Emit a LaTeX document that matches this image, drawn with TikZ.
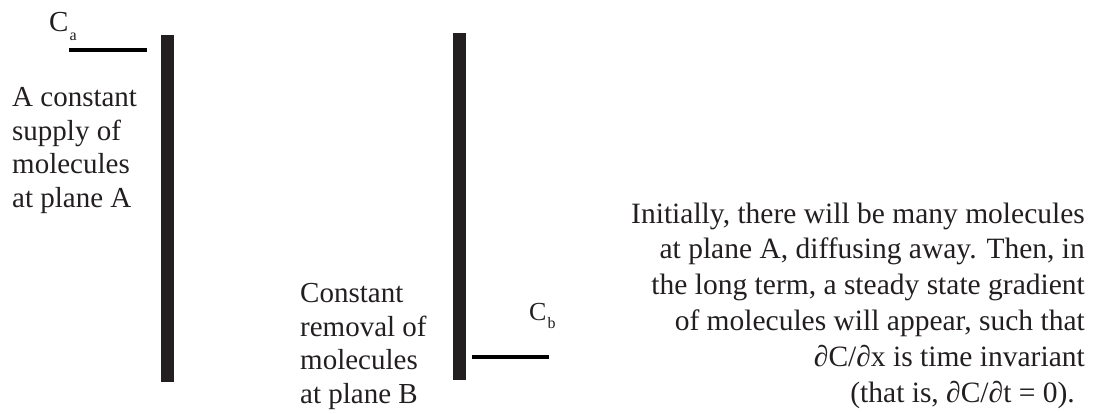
\documentclass[tikz,border=0pt]{standalone}
\usepackage{fontspec}
\setmainfont{Liberation Serif}
\usepackage{xcolor}
\usepackage{tikz}
\usetikzlibrary{positioning}

\definecolor{ink}{HTML}{231F20}

\begin{document}
\begin{tikzpicture}[
			x=1pt, y=-1pt,
			plane/.style={rectangle, fill=ink, inner sep=0pt, minimum width=13pt, minimum height=347pt, anchor=north west},
			level/.style={draw=black, line width=4pt},
			conc/.style={inner sep=0pt, anchor=base west, text=ink, font=\fontsize{29}{29}\selectfont},
			label/.style={inner sep=0pt, align=left, anchor=base west, text=ink, font=\fontsize{29}{33.4}\selectfont},
			note/.style={inner sep=0pt, align=right, anchor=base east, text=ink, font=\fontsize{29.5}{35.8}\selectfont}
			]
			\useasboundingbox (0,0) rectangle (1093,413);
			
			% the two planes
			\node[plane] (planeA) at (161,35) {};
			\node[plane] (planeB) at (453,33) {};
			
			% concentration levels
			\coordinate (caL) at (69,50);
			\coordinate (caR) at (147,50);
			\coordinate (cbL) at (472,357);
			\coordinate (cbR) at (549,357);
			\draw[level] (caL) -- (caR);
			\draw[level] (cbL) -- (cbR);
			
			\node[conc] (ca) at (49,31) {C\kern1pt\raisebox{-9pt}{\fontsize{16}{16}\selectfont a}};
			\node[conc, font=\fontsize{26}{26}\selectfont] (cb) at (529,320) {C\kern1pt\raisebox{-8pt}{\fontsize{16}{16}\selectfont b}};
			
			% multi-line texts sit on the baseline of their last line
			\node[label] (supply) at (12,207) {A constant\\supply of\\molecules\\at plane A};
			\node[label] (removal) at (300,403) {Constant\\removal of\\molecules\\at plane B};
			
			\node[note] (steady) at (1085,402) {Initially, there will be many molecules\\
				at plane A, diffusing away. Then, in\hspace*{7pt}\\
				the long term, a steady state gradient\hspace*{7pt}\\
				of molecules will appear, such that\hspace*{7pt}\\
				∂C/∂x is time invariant\hspace*{17pt}\\
				(that is, ∂C/∂t = 0).\hspace*{10pt}};
			
		\end{tikzpicture}
\end{document}
